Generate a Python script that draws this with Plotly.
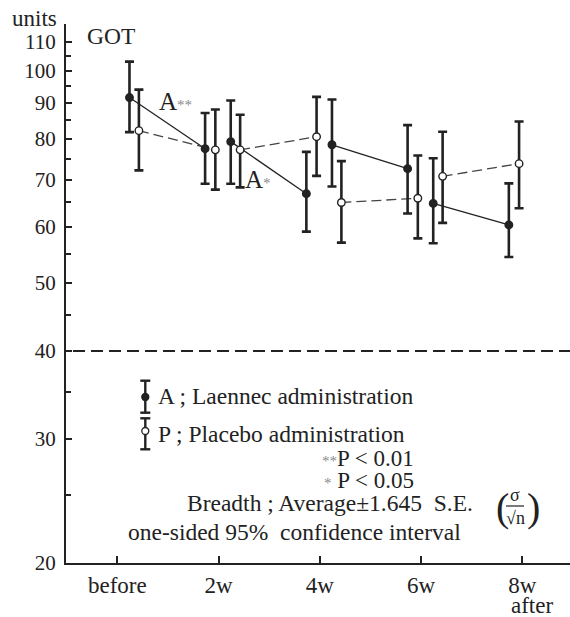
import plotly.graph_objects as go
import math

# ---------------- data ----------------
weeks = ["before", "2w", "4w", "6w", "8w"]
y_ticks = [20, 30, 40, 50, 60, 70, 80, 90, 100, 110]
y_minor = [25, 35, 45, 55, 65, 75, 85, 95, 105]
reference_level = 40

# Laennec (A): value at start and end of each 2-week interval
A_start_mean = [91.6, 79.3, 78.5, 64.8]
A_start_hi = [103.0, 90.7, 91.0, 75.1]
A_start_lo = [81.8, 69.1, 68.5, 56.9]
A_end_mean = [77.5, 66.9, 72.6, 60.4]
A_end_hi = [87.1, 76.7, 83.7, 69.2]
A_end_lo = [69.1, 59.1, 62.7, 54.4]

# Placebo (P)
P_start_mean = [82.2, 77.2, 65.0, 70.8]
P_start_hi = [94.0, 86.6, 74.4, 81.9]
P_start_lo = [72.2, 68.3, 57.0, 60.8]
P_end_mean = [77.2, 80.6, 65.9, 73.8]
P_end_hi = [88.1, 91.8, 75.8, 84.7]
P_end_lo = [67.8, 70.9, 57.8, 63.8]

# ---------------- styling constants ----------------
FONT = "Liberation Serif"
INK = "#222222"
A_START_OFF, A_END_OFF = 0.12, -0.133
P_START_OFF, P_END_OFF = 0.213, -0.032

W_FIG, H_FIG = 570, 617
ML, MR, MT, MB = 66, 0, 24, 54
PW, PH = W_FIG - ML - MR, H_FIG - MT - MB


def X(px):
    return (px - ML) / PW


def Y(py):
    return (MT + PH - py) / PH


def seg_xy(start_off, end_off, start_vals, end_vals):
    xs, ys = [], []
    for i in range(len(start_vals)):
        xs += [i + start_off, i + 1 + end_off, None]
        ys += [start_vals[i], end_vals[i], None]
    return xs, ys


def points(start_off, end_off, s_mean, s_hi, s_lo, e_mean, e_hi, e_lo):
    xs, ys, up, dn = [], [], [], []
    for i in range(len(s_mean)):
        xs += [i + start_off, i + 1 + end_off]
        ys += [s_mean[i], e_mean[i]]
        up += [s_hi[i] - s_mean[i], e_hi[i] - e_mean[i]]
        dn += [s_mean[i] - s_lo[i], e_mean[i] - e_lo[i]]
    return xs, ys, up, dn


fig = go.Figure()

# connecting lines
ax, ay = seg_xy(A_START_OFF, A_END_OFF, A_start_mean, A_end_mean)
fig.add_trace(go.Scatter(x=ax, y=ay, mode="lines",
                         line=dict(color=INK, width=1.3), hoverinfo="skip"))
px_, py_ = seg_xy(P_START_OFF, P_END_OFF, P_start_mean, P_end_mean)
fig.add_trace(go.Scatter(x=px_, y=py_, mode="lines",
                         line=dict(color="#444444", width=1.3, dash="10px,5px"),
                         hoverinfo="skip"))

# points with error bars
for args, fill in [((A_START_OFF, A_END_OFF, A_start_mean, A_start_hi, A_start_lo,
                     A_end_mean, A_end_hi, A_end_lo), INK),
                   ((P_START_OFF, P_END_OFF, P_start_mean, P_start_hi, P_start_lo,
                     P_end_mean, P_end_hi, P_end_lo), "white")]:
    xs, ys, up, dn = points(*args)
    fig.add_trace(go.Scatter(
        x=xs, y=ys, mode="markers",
        marker=dict(size=7.5, color=fill, line=dict(color=INK, width=1.4)),
        error_y=dict(type="data", symmetric=False, array=up, arrayminus=dn,
                     color=INK, thickness=2.6, width=4.5),
    ))

# dashed reference line at 40
fig.add_shape(type="line", xref="paper", yref="y", x0=X(73), x1=1,
              y0=reference_level, y1=reference_level,
              line=dict(color=INK, width=2.2, dash="12px,6px"))

# legend glyphs
for cy, top, bot, fill in [(397, 380.7, 412.7, INK), (431, 418.3, 449.3, "white")]:
    cx = 145.3
    fig.add_shape(type="line", xref="paper", yref="paper", x0=X(cx), x1=X(cx),
                  y0=Y(top), y1=Y(bot), line=dict(color=INK, width=2.4))
    for yy in (top, bot):
        fig.add_shape(type="line", xref="paper", yref="paper", x0=X(cx - 5), x1=X(cx + 5),
                      y0=Y(yy), y1=Y(yy), line=dict(color=INK, width=2.4))
    fig.add_shape(type="circle", xref="paper", yref="paper",
                  x0=X(cx - 3.5), x1=X(cx + 3.5), y0=Y(cy + 3.5), y1=Y(cy - 3.5),
                  fillcolor=fill, line=dict(color=INK, width=1.3))

# fraction bar in sigma / sqrt(n)
fig.add_shape(type="line", xref="paper", yref="paper", x0=X(506), x1=X(524),
              y0=Y(506), y1=Y(506), line=dict(color=INK, width=1.2))

ann = []


def txt(text, px, py, size, xanchor="left", color=INK):
    ann.append(dict(text=text, x=X(px), y=Y(py), xref="paper", yref="paper",
                    xanchor=xanchor, yanchor="middle", showarrow=False,
                    font=dict(family=FONT, size=size, color=color)))


star = "<span style='font-size:15px;color:#8a8a8a'>{}</span>"
txt("units", 10, 18, 23)
txt("GOT", 85, 36, 23.5)
txt("A" + star.format("**"), 157, 102, 25)
txt("A" + star.format("*"), 243, 179, 25)
txt("A ; Laennec administration", 156, 396, 23.5)
txt("P ; Placebo administration", 156, 434, 23.5)
txt(star.format("**") + "P < 0.01", 416, 458, 23, xanchor="right")
txt(star.format("*") + " P < 0.05", 416, 480, 23, xanchor="right")
txt("Breadth ; Average±1.645  S.E.", 185, 503, 23.5)
txt("(", 494, 507, 40)
txt(")", 525, 507, 40)
txt("σ", 515, 495, 18, xanchor="center")
txt("√n", 515, 518, 18, xanchor="center")
txt("one-sided 95%  confidence interval", 126, 532, 23.5)
txt("after", 532, 605, 23, xanchor="center")

fig.update_layout(
    width=W_FIG, height=H_FIG,
    margin=dict(l=ML, r=MR, t=MT, b=MB),
    paper_bgcolor="white", plot_bgcolor="white",
    showlegend=False,
    font=dict(family=FONT, color=INK),
    annotations=ann,
    xaxis=dict(
        range=[-0.507, 4.471], tickmode="array", tickvals=list(range(len(weeks))),
        ticktext=weeks, ticks="inside", ticklen=7, tickwidth=2, tickcolor=INK,
        showline=True, linewidth=2, linecolor=INK, showgrid=False, zeroline=False,
        tickfont=dict(family=FONT, size=23, color=INK),
    ),
    yaxis=dict(
        type="log", range=[math.log10(20), math.log10(20) + PH / 704.3],
        tickmode="array", tickvals=y_ticks, ticktext=[str(v) for v in y_ticks],
        ticks="inside", ticklen=6, tickwidth=2, tickcolor=INK, ticklabelstandoff=4,
        showline=True, linewidth=2, linecolor=INK, showgrid=False, zeroline=False,
        tickfont=dict(family=FONT, size=21, color=INK),
        minor=dict(tickmode="array", tickvals=y_minor, ticks="inside",
                   ticklen=5, tickwidth=2, tickcolor=INK, showgrid=False),
    ),
)

fig.write_html("out.html", config={"displayModeBar": False},
               post_script="document.body.style.margin='0';"
                           "document.body.style.overflow='hidden';")
